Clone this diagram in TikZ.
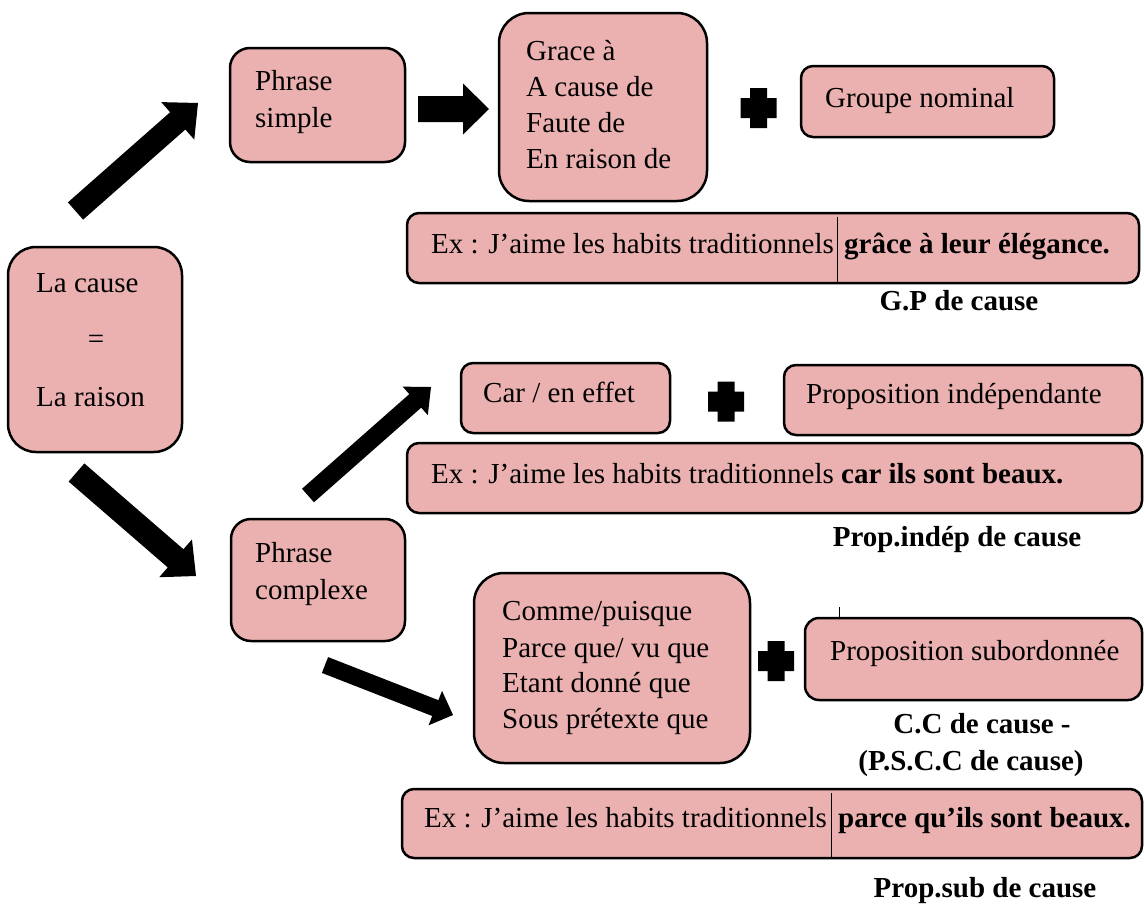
\documentclass[tikz,border=0pt]{standalone}
\usepackage{fontspec}
\setmainfont{Liberation Serif}
\usetikzlibrary{calc,fit}
\definecolor{boxpink}{RGB}{234,177,176}
\tikzset{
  box/.style={draw=black, line width=2.5pt, fill=boxpink, rounded corners=#1, inner sep=0pt},
  box/.default=12pt,
  txt/.style={inner sep=0pt, anchor=base west, font=\fontsize{29}{35}\selectfont},
  btxt/.style={inner sep=0pt, anchor=base, font=\fontsize{29}{35}\selectfont\bfseries},
  sepline/.style={draw=black, line width=1pt},
}
% block arrow: tail, tip, shaft half width, head half width, head length
\newcommand\blockarrow[5]{%
  \coordinate (ba-m) at ($(#2)!#5!(#1)$);
  \fill[black] ($(#1)!#3!90:(#2)$) -- ($(ba-m)!#3!90:(#2)$) -- ($(ba-m)!#4!90:(#2)$) -- (#2)
    -- ($(ba-m)!#4!-90:(#2)$) -- ($(ba-m)!#3!-90:(#2)$) -- ($(#1)!#3!-90:(#2)$) -- cycle;
}
% plus sign centred on a named coordinate
\newcommand\plussign[1]{%
  \fill[black] ($(#1)+(-18,-10)$) rectangle ($(#1)+(18,10)$)
               ($(#1)+(-8.5,-20)$) rectangle ($(#1)+(8.5,20)$);
}
\begin{document}
\begin{tikzpicture}[x=1pt,y=-1pt]
\fill[white] (0,0) rectangle (1144,911);
\useasboundingbox (0,0) rectangle (1144,911);

% ---------- boxes ----------
\node[box=28pt, fit={(8,247) (182,452)}] (cause) {};
\node[box=20pt, fit={(230,48) (405,162)}] (psimple) {};
\node[box=30pt, fit={(499,13) (707,201)}] (grace) {};
\node[box, fit={(801,66) (1054,137)}] (gn) {};
\node[box, fit={(407,213) (1139,283)}] (ex1) {};
\node[box, fit={(461,363) (670,433)}] (car) {};
\node[box, fit={(784,365) (1142,435)}] (pind) {};
\node[box, fit={(407,443) (1142,513)}] (ex2) {};
\node[box=20pt, fit={(231,519) (405,641)}] (pcomplexe) {};
\node[box=30pt, fit={(474,573) (750,763)}] (comme) {};
\node[box=14pt, fit={(805,618) (1142,700)}] (psub) {};
\node[box, fit={(402,789) (1142,858)}] (ex3) {};

% ---------- texts ----------
\node[txt] (tcause) at (36,292) {La cause};
\node[txt, anchor=base] (teq) at (96,348) {=};
\node[txt] (traison) at (36,406) {La raison};

\node[txt] (tps1) at (255,90) {Phrase};
\node[txt] (tps2) at (255,127) {simple};

\node[txt] (tg1) at (526,60) {Grace à};
\node[txt] (tg2) at (526,96) {A cause de};
\node[txt] (tg3) at (526,132) {Faute de};
\node[txt] (tg4) at (526,168) {En raison de};

\node[txt] (tgn) at (825,107) {Groupe nominal};

\node[txt] (tex1a) at (431,253) {Ex : J’aime les habits traditionnels};
\node[txt, font=\fontsize{29}{35}\selectfont\bfseries] (tex1b) at (844,253) {grâce à leur élégance.};
\coordinate (l1top) at (837,217);
\coordinate (l1bot) at (837,283);
\draw[sepline] (l1top) -- (l1bot);
\node[btxt] (tgp) at (959,310) {G.P de cause};

\node[txt] (tcar) at (483,402) {Car / en effet};
\node[txt] (tpind) at (806,403) {Proposition indépendante};
\node[txt] (tex2) at (431,483) {Ex : J’aime les habits traditionnels \textbf{car ils sont beaux.}};
\node[btxt] (tpindc) at (957,546) {Prop.indép de cause};

\node[txt] (tpc1) at (255,562) {Phrase};
\node[txt] (tpc2) at (255,599) {complexe};

\node[txt] (tc1) at (502,620) {Comme/puisque};
\node[txt] (tc2) at (502,657) {Parce que/ vu que};
\node[txt] (tc3) at (502,692) {Etant donné que};
\node[txt] (tc4) at (502,728) {Sous prétexte que};

\node[txt] (tpsub) at (830,660) {Proposition subordonnée};
\coordinate (l2top) at (839,607);
\coordinate (l2bot) at (839,618);
\draw[sepline] (l2top) -- (l2bot);
\node[btxt] (tcc1) at (982,733) {C.C de cause -};
\node[btxt] (tcc2) at (971,770) {(P.S.C.C de cause)};

\node[txt] (tex3a) at (424,827) {Ex : J’aime les habits traditionnels};
\node[txt, font=\fontsize{29}{35}\selectfont\bfseries] (tex3b) at (838,827) {parce qu’ils sont beaux.};
\coordinate (l3top) at (831,793);
\coordinate (l3bot) at (831,857);
\draw[sepline] (l3top) -- (l3bot);
\node[btxt] (tpsubc) at (985,897) {Prop.sub de cause};

% ---------- plus signs ----------
\coordinate (plus1) at (758.5,108);
\coordinate (plus2) at (726,401.5);
\coordinate (plus3) at (776,661);
\plussign{plus1}
\plussign{plus2}
\plussign{plus3}

% ---------- block arrows ----------
\coordinate (a1t) at (75.5,211);   \coordinate (a1h) at (198,103);
\coordinate (a2t) at (76.5,472.5); \coordinate (a2h) at (196,576);
\coordinate (a3t) at (418,109);    \coordinate (a3h) at (489,109);
\coordinate (a4t) at (308,495.5);  \coordinate (a4h) at (431,387);
\coordinate (a5t) at (325,665);    \coordinate (a5h) at (453,715);
\blockarrow{a1t}{a1h}{11.5pt}{25pt}{27pt}
\blockarrow{a2t}{a2h}{12pt}{25pt}{27pt}
\blockarrow{a3t}{a3h}{13pt}{25.5pt}{26pt}
\blockarrow{a4t}{a4h}{9pt}{19pt}{21pt}
\blockarrow{a5t}{a5h}{8.5pt}{18.5pt}{19pt}
\end{tikzpicture}
\end{document}
